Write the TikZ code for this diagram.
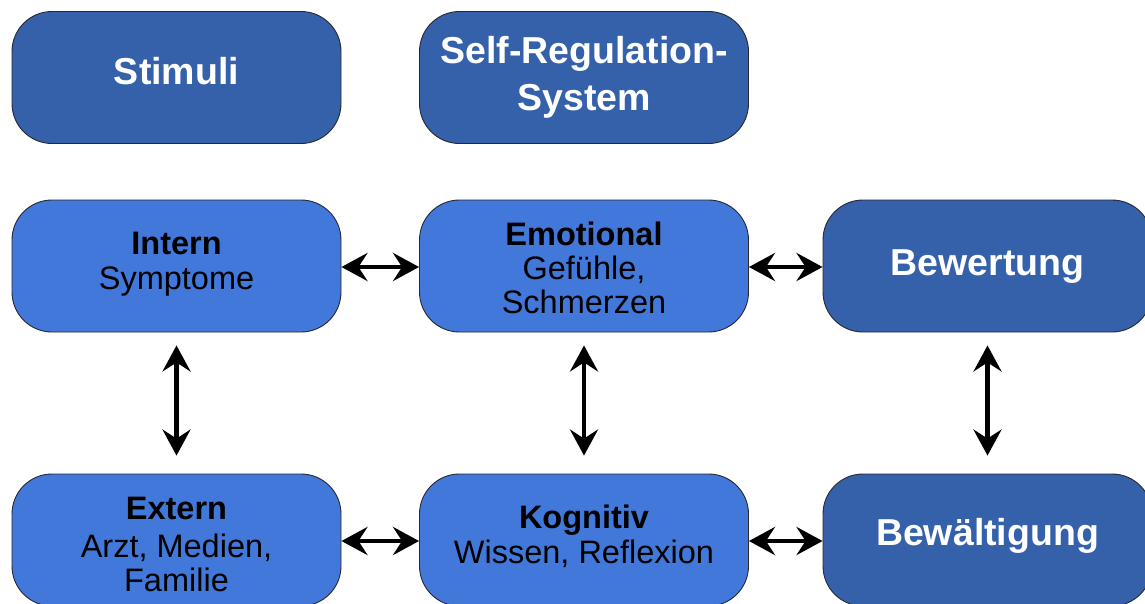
\documentclass[tikz,border=0pt]{standalone}
\usepackage{fontspec}
\setmainfont{Liberation Sans}
\usetikzlibrary{arrows.meta}
\definecolor{darkbox}{RGB}{53,97,171}
\definecolor{lightbox}{RGB}{66,120,217}
\definecolor{edge}{RGB}{40,40,50}
\newcommand\btxt[2]{\raisebox{#1}[0pt][0pt]{\begin{tabular}[b]{@{}c@{}}#2\end{tabular}}}
\tikzset{
  box/.style={draw=edge, line width=0.9pt, rounded corners=40pt, minimum width=329pt, minimum height=132pt, inner sep=0pt},
  darkb/.style={box, fill=darkbox, text=white, font=\fontsize{37.5}{47}\selectfont\bfseries},
  lightb/.style={box, fill=lightbox, text=black, font=\fontsize{32.5}{34}\selectfont},
  arr/.style={line width=4.4pt, {Stealth[length=26pt,width=28pt,inset=9pt]}-{Stealth[length=26pt,width=28pt,inset=9pt]}},
}
\begin{document}
\begin{tikzpicture}[x=1pt,y=-1pt]
\useasboundingbox (0,0) rectangle (1145,603);
\begin{scope}
\clip (0,0) rectangle (1145,603);
\node[darkb] (stimuli) at (176.5,77.5) {\btxt{-6.5pt}{Stimuli}};
\node[darkb] (selfreg) at (584,77.5) {\btxt{-32.5pt}{Self-Regulation-\\System}};
\node[lightb] (intern) at (176.5,266) {\btxt{-23pt}{\textbf{Intern}\\[1pt]Symptome}};
\node[lightb] (emotional) at (584,266) {\btxt{-47pt}{\textbf{Emotional}\\Gefühle,\\Schmerzen}};
\node[darkb] (bewertung) at (987.5,266) {\btxt{-9pt}{Bewertung}};
\node[lightb] (extern) at (176.5,540) {\btxt{-51pt}{\textbf{Extern}\\[4pt]Arzt, Medien,\\Familie}};
\node[lightb] (kognitiv) at (584,540) {\btxt{-23pt}{\textbf{Kognitiv}\\[1pt]Wissen, Reflexion}};
\node[darkb] (bewaeltigung) at (987.5,540) {\btxt{-5pt}{Bewältigung}};
\end{scope}
\draw[arr] (intern.east |- 0,267) -- (emotional.west |- 0,267);
\draw[arr] (emotional.east |- 0,267) -- (bewertung.west |- 0,267);
\draw[arr] (extern.east |- 0,541) -- (kognitiv.west |- 0,541);
\draw[arr] (kognitiv.east |- 0,541) -- (bewaeltigung.west |- 0,541);
\draw[arr, shorten <=13pt, shorten >=18pt] (intern) -- (extern);
\draw[arr, shorten <=13pt, shorten >=18pt] (emotional) -- (kognitiv);
\draw[arr, shorten <=13pt, shorten >=18pt] (bewertung) -- (bewaeltigung);
\end{tikzpicture}
\end{document}
